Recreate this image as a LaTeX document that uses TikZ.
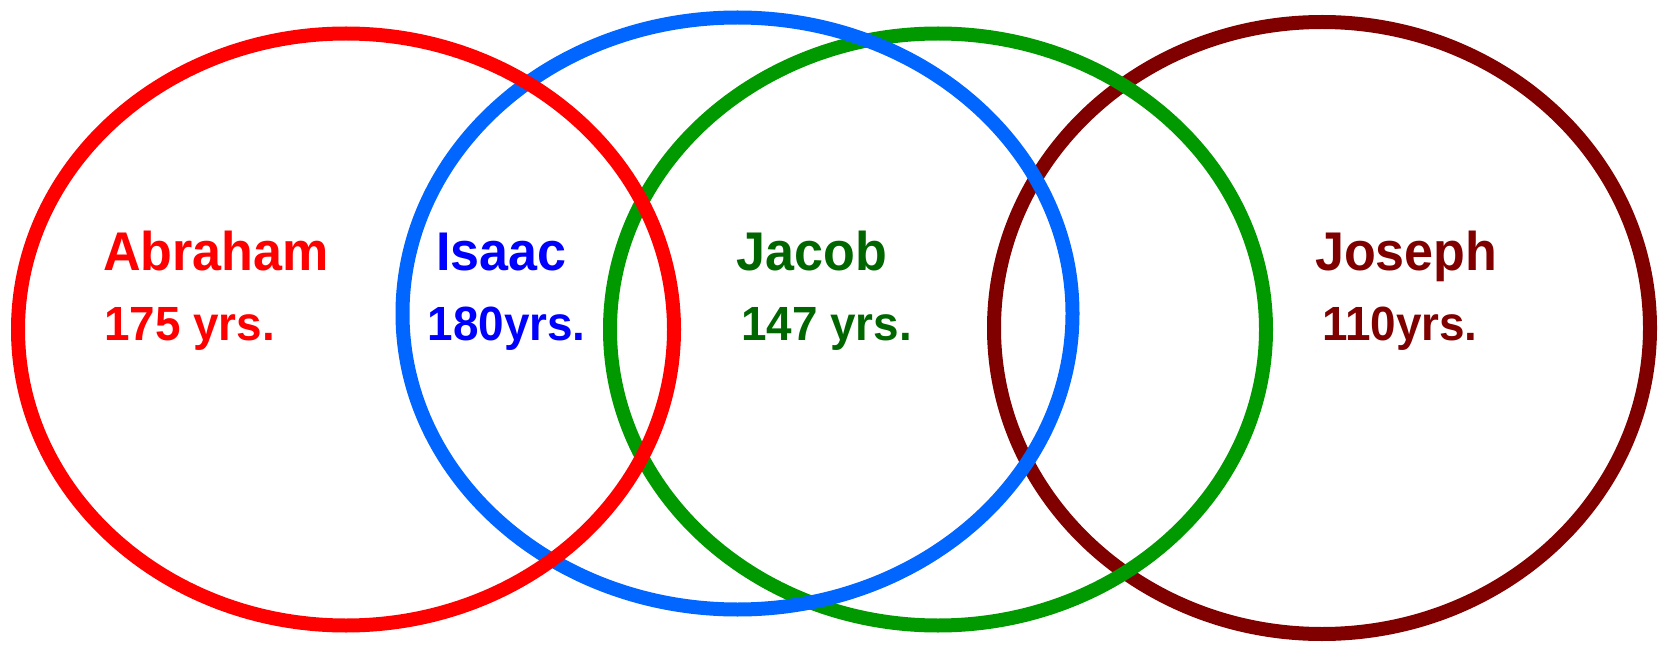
\documentclass[tikz,border=0pt]{standalone}
\usepackage{fontspec}
\setmainfont{Liberation Sans}
\newfontfamily\narrowsans{Liberation Sans}[FakeStretch=0.955]
\usetikzlibrary{positioning}

\definecolor{abrared}{RGB}{255,0,0}
\definecolor{isaacring}{RGB}{0,102,255}
\definecolor{isaactext}{RGB}{0,0,255}
\definecolor{jacobring}{RGB}{0,153,0}
\definecolor{jacobtext}{RGB}{0,102,0}
\definecolor{josephred}{RGB}{128,0,0}

\begin{document}
\begin{tikzpicture}[x=1pt, y=-1pt,
    ring/.style = {line width=14pt},
    person/.style = {anchor=base west, inner sep=0pt, font=\narrowsans\fontsize{54.5}{54.5}\selectfont\bfseries},
    age/.style = {anchor=base west, inner sep=0pt, font=\narrowsans\fontsize{48}{48}\selectfont\bfseries}]
  \useasboundingbox (0,0) rectangle (1658,647);

  % rings, back to front
  \draw[ring, josephred] (1322,328) ellipse [x radius=328, y radius=306];
  \draw[ring, jacobring] (938,329.5) ellipse [x radius=328, y radius=296];
  \draw[ring, isaacring] (737.5,313.5) ellipse [x radius=335, y radius=296];
  \draw[ring, abrared] (346,329.5) ellipse [x radius=328, y radius=296];

  % labels
  \node[person, abrared] (abraham) at (103,270.5) {Abraham};
  \node[age, abrared] (abrahamage) at (104,340) {175 yrs.};
  \node[person, isaactext] (isaac) at (436,270.5) {Isaac};
  \node[age, isaactext] (isaacage) at (427.5,340) {180yrs.};
  \node[person, jacobtext] (jacob) at (736.5,270.5) {Jacob};
  \node[age, jacobtext] (jacobage) at (741,340) {147 yrs.};
  \node[person, josephred] (joseph) at (1315,270.5) {Joseph};
  \node[age, josephred] (josephage) at (1322,340) {110yrs.};
\end{tikzpicture}
\end{document}
